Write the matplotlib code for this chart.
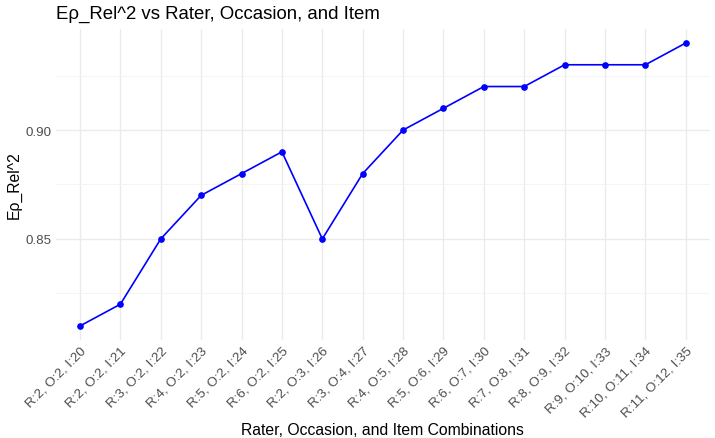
import matplotlib.pyplot as plt
import matplotlib.transforms as mtransforms
from matplotlib.ticker import MultipleLocator

plt.rcParams['font.family'] = ['Liberation Sans', 'DejaVu Sans']

# Datos
combos = ["R:2, O:2, I:20", "R:2, O:2, I:21", "R:3, O:2, I:22", "R:4, O:2, I:23",
          "R:5, O:2, I:24", "R:6, O:2, I:25", "R:2, O:3, I:26", "R:3, O:4, I:27",
          "R:4, O:5, I:28", "R:5, O:6, I:29", "R:6, O:7, I:30", "R:7, O:8, I:31",
          "R:8, O:9, I:32", "R:9, O:10, I:33", "R:10, O:11, I:34", "R:11, O:12, I:35"]
rel2 = [0.81, 0.82, 0.85, 0.87, 0.88, 0.89, 0.85, 0.88,
        0.90, 0.91, 0.92, 0.92, 0.93, 0.93, 0.93, 0.94]

fig = plt.figure(figsize=(7.15, 4.39), dpi=100, facecolor='white')
ax = fig.add_axes([0.078, 0.223, 0.915, 0.709])

x = list(range(len(combos)))
ax.plot(x, rel2, color='#0000FF', linewidth=1.2, marker='o', markersize=3.8, zorder=3)

ax.set_xlim(-0.6, len(combos) - 1 + 0.6)
span = max(rel2) - min(rel2)
ax.set_ylim(min(rel2) - 0.05 * span, max(rel2) + 0.05 * span)

ax.set_xticks(x)
ax.set_xticklabels(combos, rotation=45, ha='right', rotation_mode='anchor',
                   fontsize=9.6, color='#4D4D4D')
# desplazar un poco las etiquetas hacia la derecha, como en ggplot
offset = mtransforms.ScaledTranslation(6 / 100, 0, fig.dpi_scale_trans)
for lbl in ax.get_xticklabels():
    lbl.set_transform(lbl.get_transform() + offset)

ax.set_yticks([0.85, 0.90])
ax.set_yticklabels(['0.85', '0.90'], fontsize=9.6, color='#4D4D4D')
ax.yaxis.set_minor_locator(MultipleLocator(0.025))

ax.grid(True, which='major', color='#EBEBEB', linewidth=1.0)
ax.grid(True, which='minor', axis='y', color='#F2F2F2', linewidth=0.6)
ax.set_axisbelow(True)
ax.tick_params(which='both', length=0, pad=3)
for s in ax.spines.values():
    s.set_visible(False)

ax.set_xlabel('Rater, Occasion, and Item Combinations', fontsize=11.3, labelpad=2)
ax.set_ylabel('Eρ_Rel^2', fontsize=11.3, labelpad=3)
ax.set_title('Eρ_Rel^2 vs Rater, Occasion, and Item', fontsize=13.4, loc='left', pad=8,
             x=0.0)

plt.savefig('out.png', dpi=100, facecolor='white')
plt.close()
